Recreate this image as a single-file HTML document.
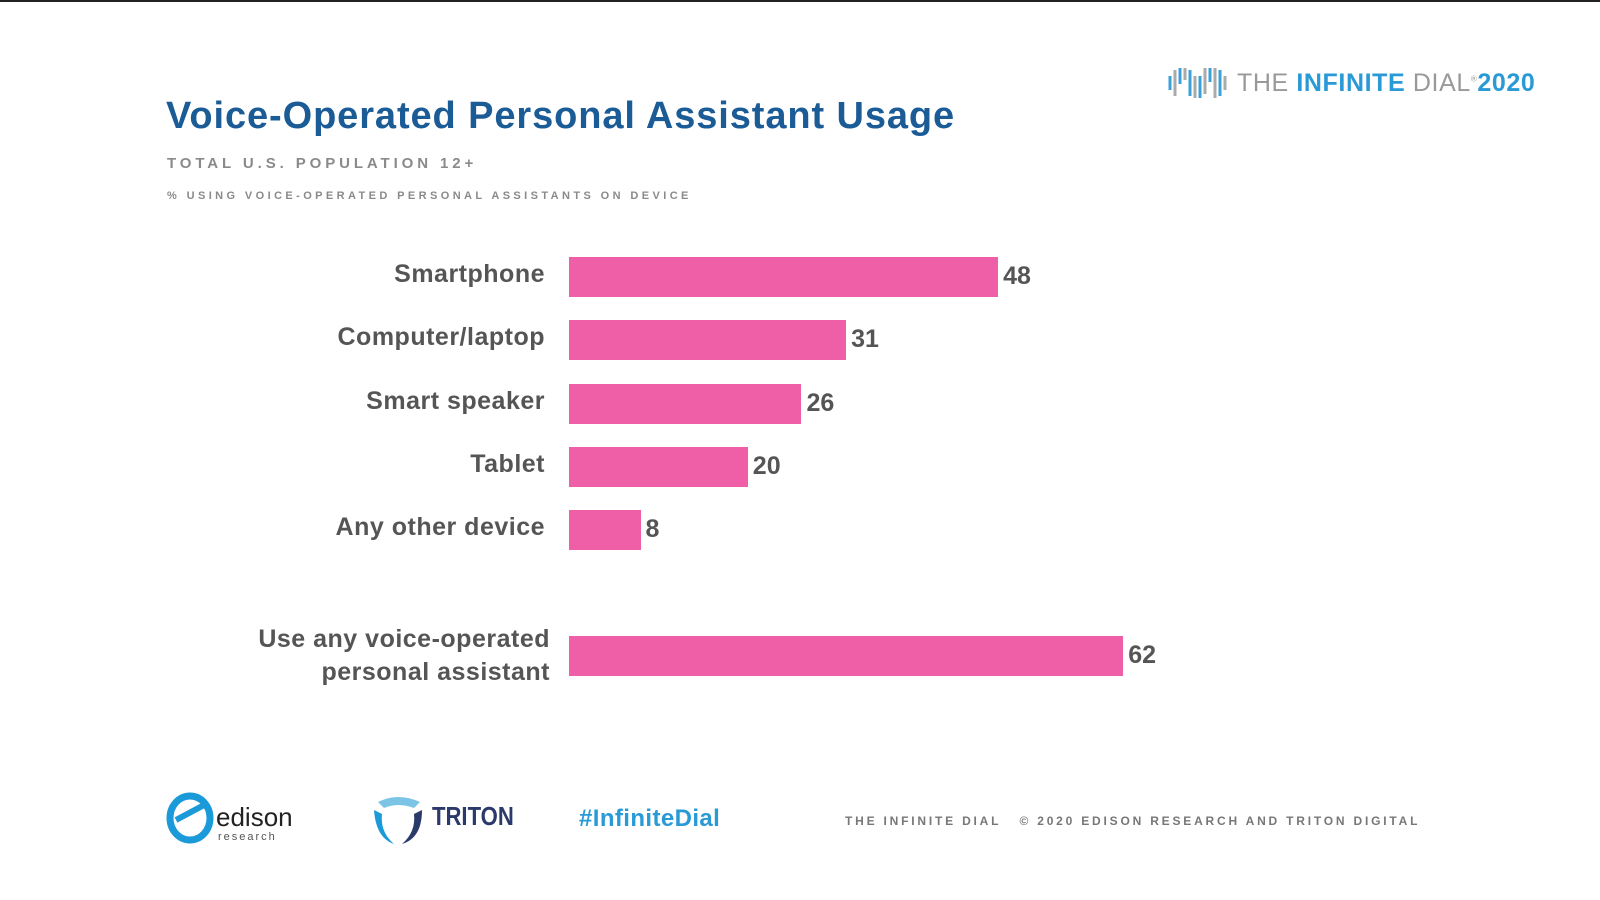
<!DOCTYPE html>
<html><head><meta charset="utf-8"><style>
body{margin:0;width:1600px;height:900px;background:#fff;position:relative;overflow:hidden;font-family:"Liberation Sans",sans-serif}
.abs{position:absolute}
#title{left:166px;top:95px;font-size:38px;font-weight:bold;color:#1b5c97;letter-spacing:0.9px;white-space:nowrap}
#sub1{left:167px;top:155px;font-size:15px;font-weight:bold;color:#8a8a8a;letter-spacing:3.9px;white-space:nowrap}
#sub2{left:167px;top:190px;font-size:11px;font-weight:bold;color:#8a8a8a;letter-spacing:3.4px;white-space:nowrap}
.lbl{font-size:25px;font-weight:bold;color:#555;text-align:right;right:1055px;line-height:33px;letter-spacing:0.5px;white-space:nowrap}
.val{font-size:25px;font-weight:bold;color:#555;line-height:40px}
.bar{background:#ee5fa7}
</style></head><body>
<div class="abs" style="left:0;top:0;width:1600px;height:2px;background:#222"></div>
<div id="title" class="abs">Voice-Operated Personal Assistant Usage</div>
<div id="sub1" class="abs">TOTAL U.S. POPULATION 12+</div>
<div id="sub2" class="abs">% USING VOICE-OPERATED PERSONAL ASSISTANTS ON DEVICE</div>
<div class="abs" style="left:1166px;top:64px">
<svg width="64" height="38" viewBox="0 0 64 38"><g stroke-width="3">
<line x1="4" y1="12" x2="4" y2="26" stroke="#3aa0d8"/><line x1="9" y1="6" x2="9" y2="32" stroke="#aaa"/><line x1="14" y1="4" x2="14" y2="20" stroke="#3aa0d8"/><line x1="19" y1="4" x2="19" y2="16" stroke="#aaa"/><line x1="24" y1="6" x2="24" y2="32" stroke="#3aa0d8"/><line x1="29" y1="12" x2="29" y2="34" stroke="#aaa"/><line x1="34" y1="12" x2="34" y2="34" stroke="#3aa0d8"/><line x1="39" y1="4" x2="39" y2="30" stroke="#aaa"/><line x1="44" y1="4" x2="44" y2="18" stroke="#3aa0d8"/><line x1="49" y1="4" x2="49" y2="34" stroke="#aaa"/><line x1="54" y1="6" x2="54" y2="32" stroke="#3aa0d8"/><line x1="59" y1="12" x2="59" y2="26" stroke="#aaa"/></g></svg></div>
<div class="abs" style="left:1237px;top:69px;font-size:25px;color:#999;letter-spacing:0.6px;white-space:nowrap">THE <b style="color:#2a9ad6">INFINITE</b> DIAL<sup style="font-size:8px">®</sup><b style="color:#2a9ad6">2020</b></div>
<div id="chart"></div>
<div class="abs" style="left:166px;top:790px">
<svg width="140" height="60"><ellipse cx="24" cy="28" rx="20" ry="22" fill="none" stroke="#1a9ad8" stroke-width="7"/><path d="M10 30 L40 14" stroke="#1a9ad8" stroke-width="6"/><text x="50" y="36" font-size="26" fill="#222" font-family="Liberation Sans">edison</text><text x="52" y="50" font-size="11" fill="#555" letter-spacing="2" font-family="Liberation Sans">research</text></svg></div>
<div class="abs" style="left:370px;top:792px">
<svg width="150" height="60"><path d="M8 10 Q28 0 50 10 L44 16 Q28 10 14 16Z" fill="#7bc4e6"/><path d="M4 18 L12 22 Q10 40 24 52 Q6 46 4 18Z" fill="#1a9ad8"/><path d="M52 18 L44 22 Q46 40 32 52 Q52 46 52 18Z" fill="#2b3a6b"/><text x="62" y="33" font-size="26" font-weight="bold" fill="#2b3a6b" font-family="Liberation Sans" transform="scale(0.85,1)" transform-origin="62 33">TRITON</text></svg></div>
<div class="abs" style="left:579px;top:805px;font-size:24px;font-weight:bold;color:#2a9ad6;letter-spacing:0.4px">#InfiniteDial</div>
<div class="abs" style="left:845px;top:814px;font-size:12px;font-weight:bold;color:#777;letter-spacing:2.8px;white-space:nowrap">THE INFINITE DIAL &nbsp; © 2020 EDISON RESEARCH AND TRITON DIGITAL</div>
<script>
const categories=["Smartphone","Computer/laptop","Smart speaker","Tablet","Any other device","Use any voice-operated<br>personal assistant"];
const values=[48,31,26,20,8,62];
const x0=569, perUnit=8.94, barH=40;
function yPos(i){return i<5?257+i*63.3:636;}
function xLen(v){return v*perUnit;}
const chart=document.getElementById('chart');
categories.forEach((c,i)=>{
 const y=yPos(i);
 const b=document.createElement('div');
 b.className='abs bar';
 
 
 b.style.cssText=`left:${x0}px;top:${y}px;width:${xLen(values[i])}px;height:${barH}px`;
 chart.appendChild(b);
 const v=document.createElement('div');
 v.className='abs val';
 
 
 v.style.cssText=`left:${x0+xLen(values[i])+5}px;top:${y-1}px`;
 v.textContent=values[i];
 chart.appendChild(v);
 const l=document.createElement('div');
 l.className='abs lbl';
 
 
 const multi=i===5;
 l.style.cssText=`top:${multi?y-13:y+1}px;${multi?'right:1050px':''}`;
 l.innerHTML=c;
 chart.appendChild(l);
});
</script>
</body></html>
